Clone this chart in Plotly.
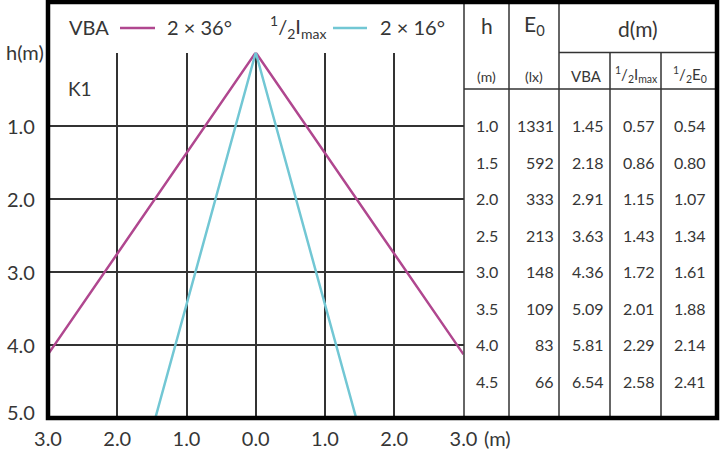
import plotly.graph_objects as go

# ---- data ----
vba_x = [-3.0, 0.0, 3.0]
vba_h = [4.13, 0.0, 4.13]
imax_x = [-1.45, 0.0, 1.45]
imax_h = [5.0, 0.0, 5.0]

x_ticks = [-3, -2, -1, 0, 1, 2, 3]
x_ticktext = ["3.0", "2.0", "1.0", "0.0", "1.0", "2.0", "3.0"]
y_ticks = [0, 1, 2, 3, 4, 5]
y_ticktext = ["h(m)", "1.0", "2.0", "3.0", "4.0", "5.0"]

tbl_h = [1.0, 1.5, 2.0, 2.5, 3.0, 3.5, 4.0, 4.5]
tbl_e0 = [1331, 592, 333, 213, 148, 109, 83, 66]
tbl_vba = [1.45, 2.18, 2.91, 3.63, 4.36, 5.09, 5.81, 6.54]
tbl_imax = [0.57, 0.86, 1.15, 1.43, 1.72, 2.01, 2.29, 2.58]
tbl_e0half = [0.54, 0.80, 1.07, 1.34, 1.61, 1.88, 2.14, 2.41]

MAG = "#b0478f"
CYA = "#72c7d4"
TXT = "#363636"
GRID = "#333333"
FONT = "Lato"

W, H = 720, 451
ML, MR, MT, MB = 48, 3, 2, 33
PW, PH = W - ML - MR, H - MT - MB


def px(x):
    return (x - ML) / PW


def py(y):
    return (H - MB - y) / PH


fig = go.Figure()
fig.add_trace(go.Scatter(x=vba_x, y=vba_h, mode="lines",
                         line=dict(color=MAG, width=2.5), showlegend=False, hoverinfo="skip"))
fig.add_trace(go.Scatter(x=imax_x, y=imax_h, mode="lines",
                         line=dict(color=CYA, width=2.5), showlegend=False, hoverinfo="skip"))

x_dom_end = px(463.5)
y_dom_end = py(52.5)

fig.update_layout(
    width=W, height=H,
    margin=dict(l=ML, r=MR, t=MT, b=MB, autoexpand=False),
    paper_bgcolor="white", plot_bgcolor="white",
    font=dict(family=FONT, color=TXT),
    xaxis=dict(domain=[0, x_dom_end], range=[-3, 3], tickvals=x_ticks, ticktext=x_ticktext,
               showgrid=True, gridcolor=GRID, gridwidth=1.5, zeroline=False, automargin=False,
               showline=False, ticks="", ticklabelstandoff=7,
               tickfont=dict(size=20, family=FONT, color=TXT)),
    yaxis=dict(domain=[0, y_dom_end], range=[5, 0], tickvals=y_ticks, automargin=False,
               showgrid=True, gridcolor=GRID, gridwidth=1.5, zeroline=False,
               showline=False, ticks="", showticklabels=False),
)

shapes = []
line_thin = dict(color=GRID, width=1.5)
# dividing lines of the table
for xp in [464, 509, 559]:
    shapes.append(dict(type="line", xref="paper", yref="paper", x0=px(xp), x1=px(xp), y0=0, y1=1, line=line_thin))
for xp in [610, 661]:
    shapes.append(dict(type="line", xref="paper", yref="paper", x0=px(xp), x1=px(xp), y0=0, y1=py(52.5), line=line_thin))
shapes.append(dict(type="line", xref="paper", yref="paper", x0=px(559), x1=1, y0=py(52.5), y1=py(52.5), line=line_thin))
shapes.append(dict(type="line", xref="paper", yref="paper", x0=px(464), x1=1, y0=py(89), y1=py(89), line=line_thin))
# legend samples
shapes.append(dict(type="line", xref="paper", yref="paper", x0=px(120), x1=px(155), y0=py(28), y1=py(28), line=dict(color=MAG, width=2.5)))
shapes.append(dict(type="line", xref="paper", yref="paper", x0=px(333), x1=px(367), y0=py(28), y1=py(28), line=dict(color=CYA, width=2.5)))
# outer frame
shapes.append(dict(type="rect", xref="paper", yref="paper", x0=0, x1=1, y0=0, y1=1,
                   line=dict(color="black", width=4.5), layer="above"))
fig.update_layout(shapes=shapes)

ann = []


def add(text, x, y, size, xanchor="center", xref="paper", yref="paper", yanchor="middle", yshift=0):
    ann.append(dict(text=text, x=x, y=y, xref=xref, yref=yref, xanchor=xanchor, yanchor=yanchor,
                    yshift=yshift, showarrow=False, font=dict(size=size, family=FONT, color=TXT)))


# y tick labels
for v, t in zip(y_ticks, y_ticktext):
    xr = 46 if v == 0 else 37
    ys = 6 if v == 5 else 0
    add(t, px(xr), v, 20, xanchor="right", yref="y", yshift=ys)
add("(m)", px(482), py(438), 20, xanchor="left")

# legend
ly = py(27)
add("VBA", px(67), ly, 20, xanchor="left")
add("2 × 36°", px(165), ly, 20, xanchor="left")
add("<sup>1</sup>/<sub>2</sub>I<sub>max</sub>", px(268), ly, 20, xanchor="left")
add("2 × 16°", px(378), ly, 20, xanchor="left")

# K1 label
add("K1", px(80), py(88), 19)

# table header
add("h", px(486.5), py(25), 21)
add("E<sub>0</sub>", px(534), py(25), 21)
add("d(m)", px(638), py(28), 21)
add("(m)", px(486.5), py(76), 14)
add("(lx)", px(534), py(76), 14)
add("VBA", px(586), py(76), 15)
add("<sup>1</sup>/<sub>2</sub>I<sub>max</sub>", px(636), py(74), 15)
add("<sup>1</sup>/<sub>2</sub>E<sub>0</sub>", px(690), py(74), 15)

# table rows
for h, e, a, b, c in zip(tbl_h, tbl_e0, tbl_vba, tbl_imax, tbl_e0half):
    add(f"{h:.1f}", px(486.5), h, 16, yref="y")
    add(f"{e}", px(556), h, 16, xanchor="right", yref="y")
    add(f"{a:.2f}", px(606), h, 16, xanchor="right", yref="y")
    add(f"{b:.2f}", px(657), h, 16, xanchor="right", yref="y")
    add(f"{c:.2f}", px(708), h, 16, xanchor="right", yref="y")

fig.update_layout(annotations=ann)
fig.write_html("out.html", config={"displayModeBar": False},
               post_script="document.body.style.margin='0';document.body.style.overflow='hidden';")
